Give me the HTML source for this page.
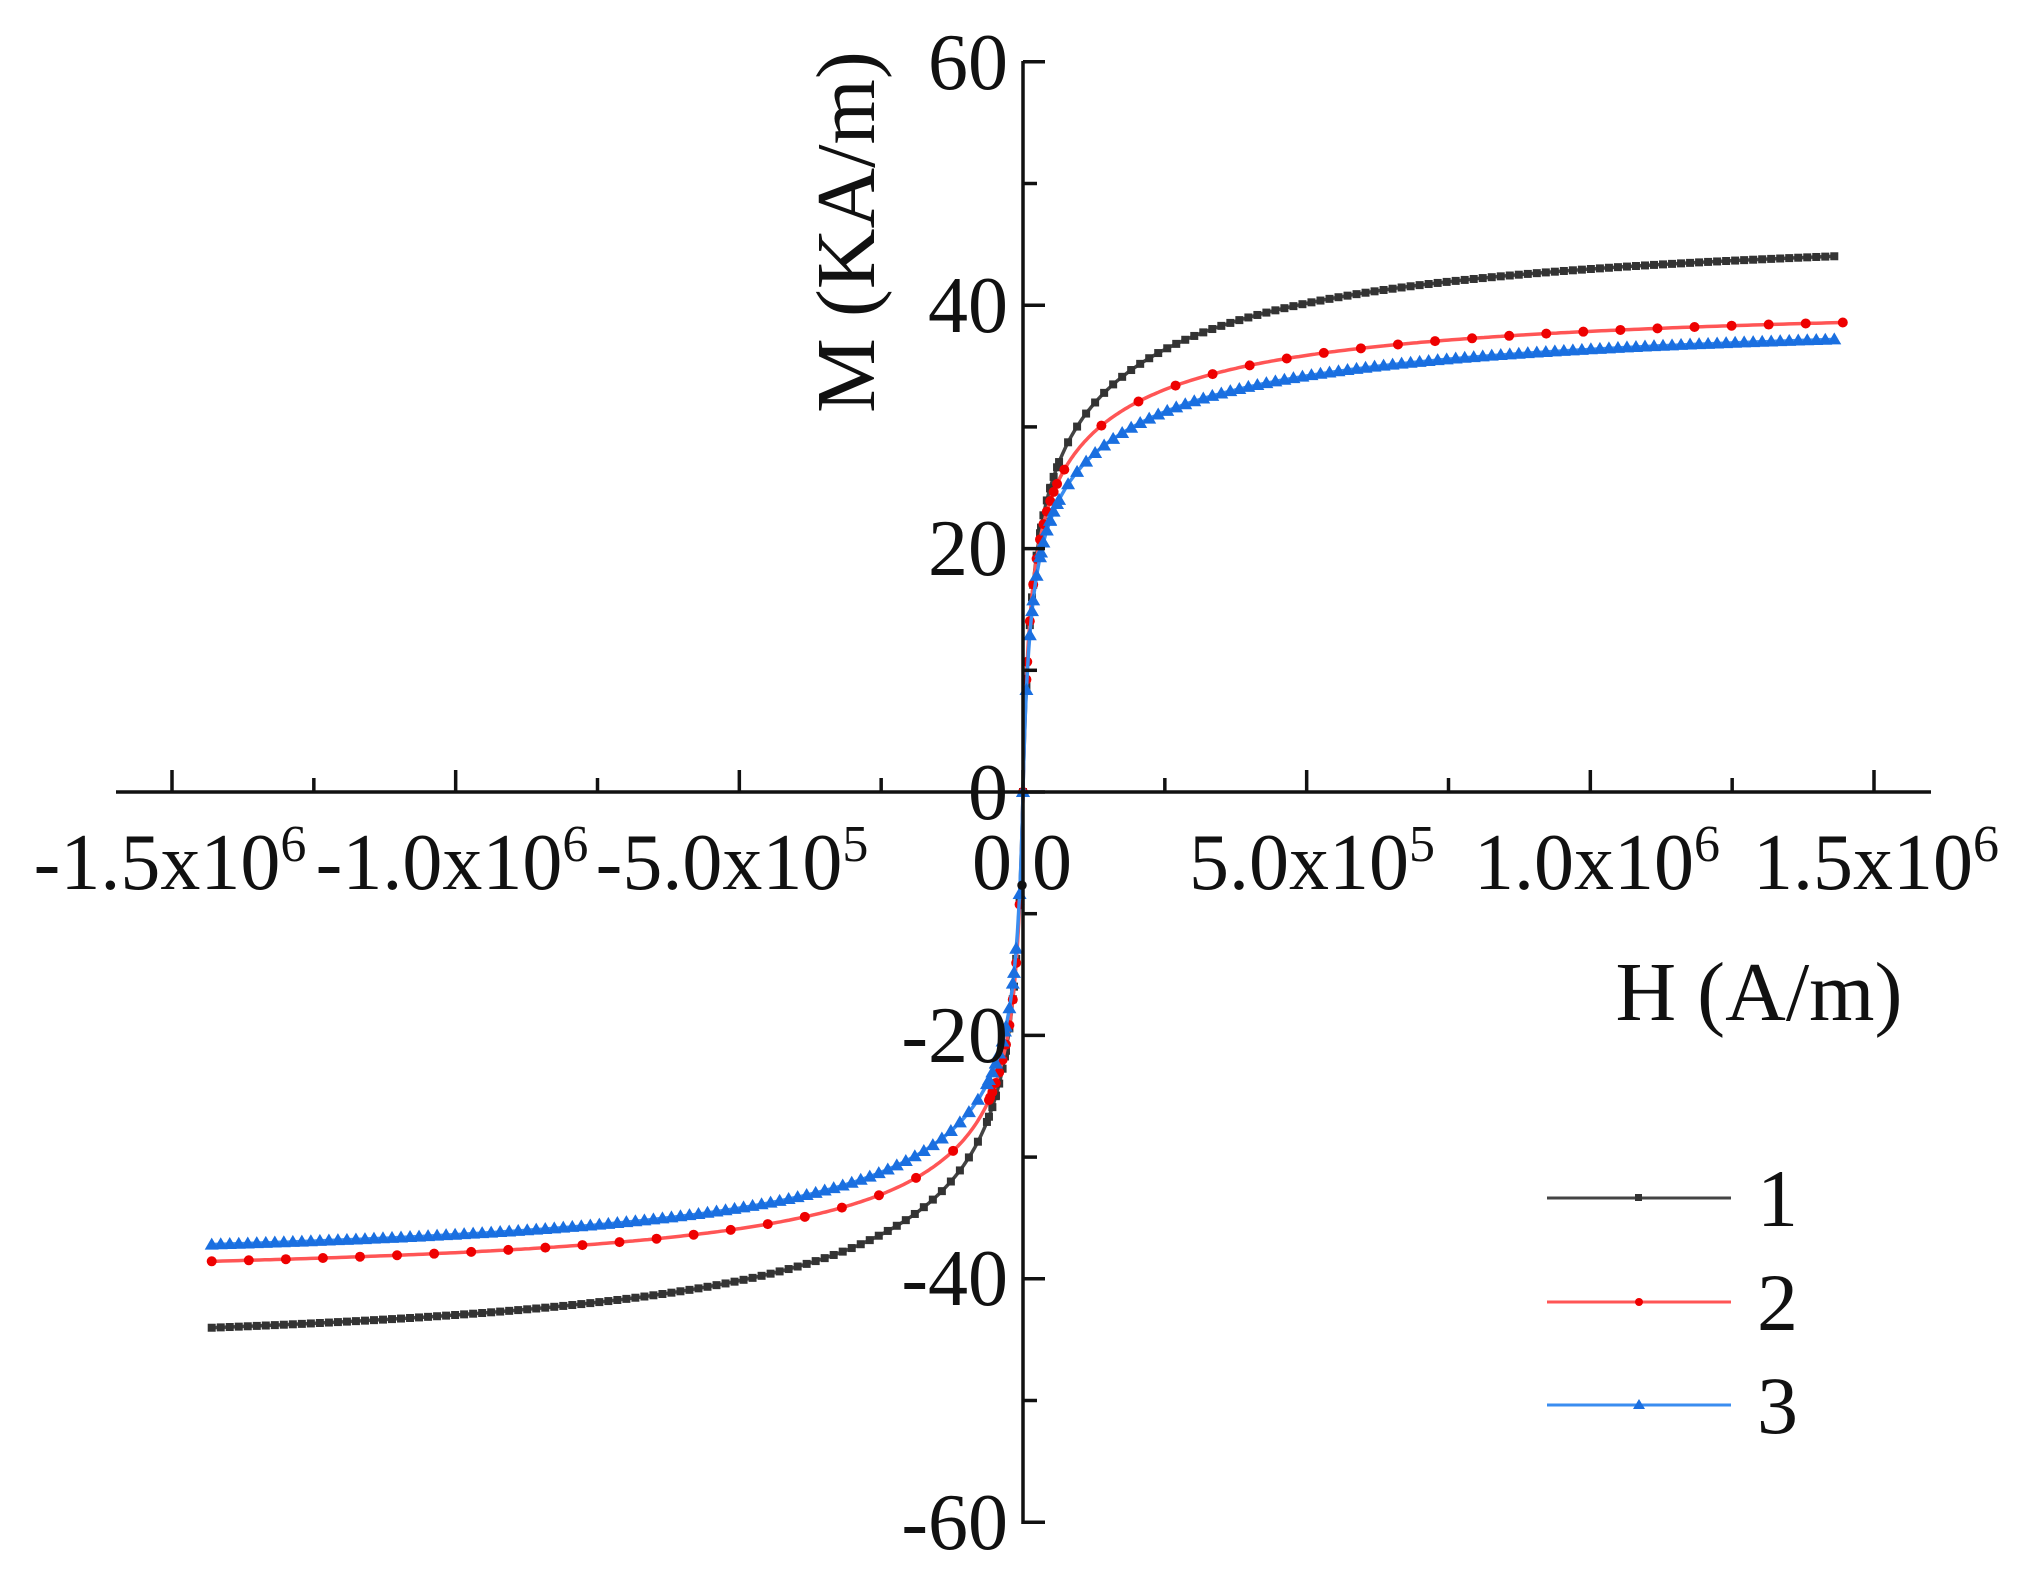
<!DOCTYPE html>
<html><head><meta charset="utf-8"><style>
html,body{margin:0;padding:0;background:#fff;}
svg{display:block;}
text{font-family:"Liberation Serif",serif;fill:#111;}
</style></head><body>
<svg id="s" width="2025" height="1576" viewBox="0 0 2025 1576" xmlns="http://www.w3.org/2000/svg">
<g id="curves"></g>
<g stroke="#111" stroke-width="3.5" fill="none">
<line x1="116" y1="792" x2="1931" y2="792"/>
<line x1="1023" y1="61" x2="1023" y2="1524"/>
</g>
<g id="ticks" stroke="#111" stroke-width="3.5"></g>
<g font-size="80" text-anchor="end">
<text x="1008" y="89">60</text>
<text x="1008" y="332">40</text>
<text x="1008" y="575">20</text>
<text x="1008" y="819">0</text>
<text x="1008" y="1062">-20</text>
<text x="1008" y="1305">-40</text>
<text x="1008" y="1549">-60</text>
</g>
<g font-size="80" text-anchor="middle">
<text x="170" y="889">-1.5x10<tspan dy="-28" font-size="52">6</tspan></text>
<text x="452" y="889">-1.0x10<tspan dy="-28" font-size="52">6</tspan></text>
<text x="732" y="889">-5.0x10<tspan dy="-28" font-size="52">5</tspan></text>
<text x="1022" y="889">0.0</text>
<text x="1312" y="889">5.0x10<tspan dy="-28" font-size="52">5</tspan></text>
<text x="1597" y="889">1.0x10<tspan dy="-28" font-size="52">6</tspan></text>
<text x="1876" y="889">1.5x10<tspan dy="-28" font-size="52">6</tspan></text>
<text x="1759" y="1020" font-size="84">H (A/m)</text>
<text transform="translate(874,232) rotate(-90)" font-size="84">M (KA/m)</text>
</g>
<g stroke-width="3">
<line x1="1547" y1="1198" x2="1731" y2="1198" stroke="#444"/>
<rect x="1635" y="1194" width="7" height="7" fill="#333"/>
<line x1="1547" y1="1302" x2="1731" y2="1302" stroke="#f55"/>
<circle cx="1639" cy="1302" r="4" fill="#e00"/>
<line x1="1547" y1="1405" x2="1731" y2="1405" stroke="#3a8df0"/>
<polygon points="1639,1399 1645,1409 1633,1409" fill="#1a6fe0"/>
</g>
<g font-size="82">
<text x="1757" y="1226">1</text>
<text x="1757" y="1330">2</text>
<text x="1757" y="1433">3</text>
</g>
</svg>
<script>
function X(h){return 1023+h/1.5e6*851;}
function Y(m){return 792-m*12.17;}
var t=document.getElementById('ticks'),s='';
for(var i=-6;i<=6;i++){var x=X(i*2.5e5);var L=(i%2==0)?22:14;s+='<line x1="'+x+'" y1="792" x2="'+x+'" y2="'+(792-L)+'"/>';}
for(var j=-6;j<=6;j++){var y=Y(j*10);var L2=(j%2==0)?22:14;s+='<line x1="1023" y1="'+y+'" x2="'+(1023+L2)+'" y2="'+y+'"/>';}
t.innerHTML=s;
function f(p,b,q,c){return function(h){var H=h/1e6;return p*H/(Math.abs(H)+b)+q*H/(Math.abs(H)+c);};}
var series=[
 {fn:f(29,0.015,18,0.25),col:"#444",mc:"#333",mk:"sq",n:180,ends:[-1.43e6,1.43e6]},
 {fn:f(26.5,0.012,14,0.2),col:"#f55",mc:"#e00",mk:"ci",n:44,ends:[-1.43e6,1.445e6]},
 {fn:f(25.5,0.013,14,0.25),col:"#3a8df0",mc:"#1a6fe0",mk:"tr",n:180,ends:[-1.43e6,1.43e6]}
];
var g=document.getElementById('curves'),out='';
series.forEach(function(S){
 var pts=[];var N=600;
 for(var k=0;k<=N;k++){var u=-1+2*k/N;var h=Math.sign(u)*Math.pow(Math.abs(u),2)*(u<0?-S.ends[0]:S.ends[1]);pts.push([X(h),Y(S.fn(h))]);}
 out+='<polyline fill="none" stroke="'+S.col+'" stroke-width="3.5" points="'+pts.map(function(p){return p[0].toFixed(1)+','+p[1].toFixed(1);}).join(' ')+'"/>';
 var mk=[];
 for(var k=0;k<=S.n;k++){var h=S.ends[0]+(S.ends[1]-S.ends[0])*k/S.n;mk.push(h);}
 for(var k=-10;k<=10;k++){mk.push(k*6e3);}
 mk.forEach(function(h){var x=X(h),y=Y(S.fn(h));
  if(S.mk=="sq")out+='<rect x="'+(x-4)+'" y="'+(y-4)+'" width="8" height="8" fill="'+S.mc+'"/>';
  else if(S.mk=="ci")out+='<circle cx="'+x+'" cy="'+y+'" r="5" fill="'+S.mc+'"/>';
  else out+='<polygon points="'+x+','+(y-7)+' '+(x+7)+','+(y+5)+' '+(x-7)+','+(y+5)+'" fill="'+S.mc+'"/>';
 });
});
g.innerHTML=out;
</script>
</body></html>
